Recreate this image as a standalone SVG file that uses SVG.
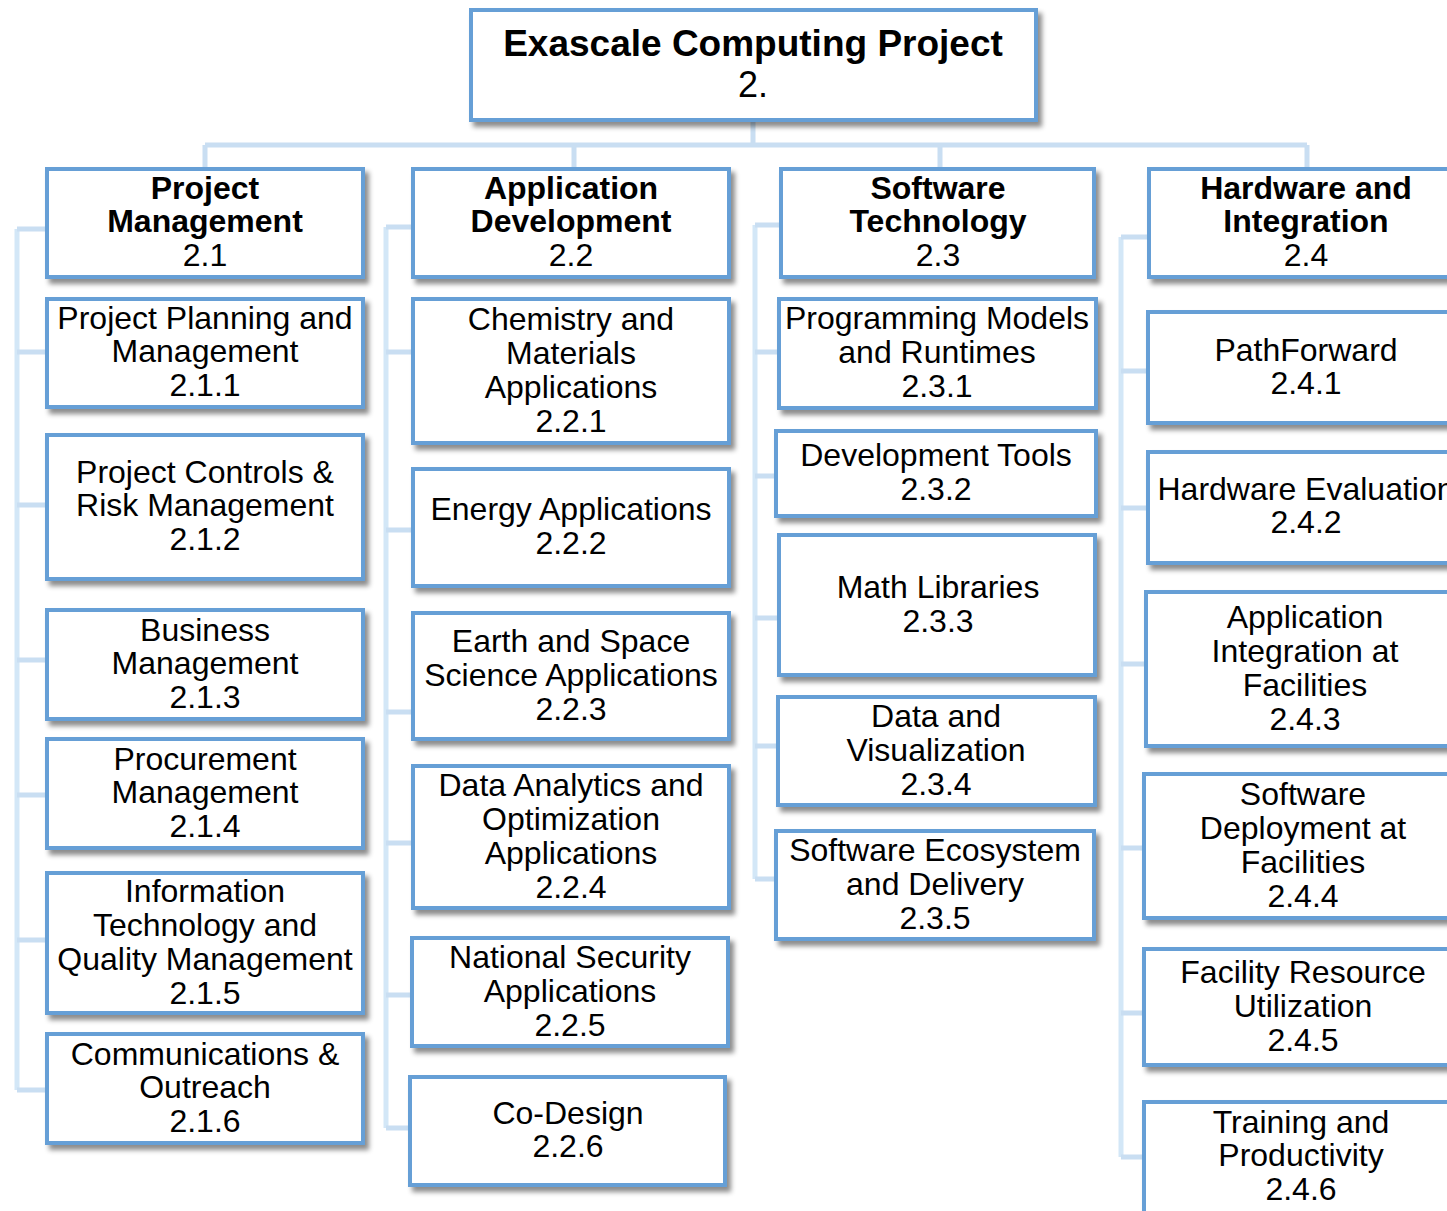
<svg xmlns="http://www.w3.org/2000/svg" width="1447" height="1211" viewBox="0 0 1447 1211">
<defs>
<filter id="sh" x="-10%" y="-10%" width="130%" height="140%">
<feDropShadow dx="4" dy="5" stdDeviation="2.5" flood-color="#000" flood-opacity="0.45"/>
</filter>
<style>
.box{fill:#fff;stroke:#669fd6;stroke-width:4;filter:url(#sh)}
.c{fill:none;stroke:#c9def2;stroke-width:5}
.cv{fill:none;stroke:#d3e7f7;stroke-width:5}
text{font-family:"Liberation Sans",Arial,sans-serif;font-size:32px;fill:#000;text-anchor:middle}
.b{font-weight:bold}
</style>
</defs>
<rect width="1447" height="1211" fill="#fff"/>
<g id="connectors">
<path class="c" d="M753 122V145M205 145H1307M205 145V167M574 145V167M940 145V167M1307 145V167"/>
<path class="cv" d="M17 229V1090"/>
<path class="c" d="M17 229H45M17 352H45M17 505H45M17 660H45M17 795H45M17 940H45M17 1090H45"/>
<path class="cv" d="M386 227V1128"/>
<path class="c" d="M386 227H411M386 352H411M386 530H411M386 712H411M386 843H411M386 995H410M386 1128H408"/>
<path class="cv" d="M755 225V879"/>
<path class="c" d="M755 225H779M755 352H777M755 476H774M755 618H777M755 746H776M755 879H774"/>
<path class="cv" d="M1121 237V1157"/>
<path class="c" d="M1121 237H1147M1121 371H1146M1121 508H1146M1121 664H1144M1121 848H1142M1121 1013H1142M1121 1157H1142"/>
</g>
<g id="n2"><rect class="box" x="471" y="10" width="565" height="110"/>
<text x="753" y="56" class="b" style="font-size:37px">Exascale Computing Project</text><text x="753" y="97" style="font-size:36px">2.</text></g>

<g id="n2.1"><rect class="box" x="47" y="169" width="316" height="108"/>
<text x="205" y="199" class="b">Project</text><text x="205" y="232" class="b">Management</text><text x="205" y="266">2.1</text></g>
<g id="n2.1.1"><rect class="box" x="47" y="299" width="316" height="108"/>
<text x="205" y="329">Project Planning and</text><text x="205" y="362">Management</text><text x="205" y="396">2.1.1</text></g>
<g id="n2.1.2"><rect class="box" x="47" y="435" width="316" height="144"/>
<text x="205" y="483">Project Controls &amp;</text><text x="205" y="516">Risk Management</text><text x="205" y="550">2.1.2</text></g>
<g id="n2.1.3"><rect class="box" x="47" y="610" width="316" height="109"/>
<text x="205" y="641">Business</text><text x="205" y="674">Management</text><text x="205" y="708">2.1.3</text></g>
<g id="n2.1.4"><rect class="box" x="47" y="739" width="316" height="109"/>
<text x="205" y="770">Procurement</text><text x="205" y="803">Management</text><text x="205" y="837">2.1.4</text></g>
<g id="n2.1.5"><rect class="box" x="47" y="873" width="316" height="140"/>
<text x="205" y="902">Information</text><text x="205" y="936">Technology and</text><text x="205" y="970">Quality Management</text><text x="205" y="1004">2.1.5</text></g>
<g id="n2.1.6"><rect class="box" x="47" y="1034" width="316" height="109"/>
<text x="205" y="1065">Communications &amp;</text><text x="205" y="1098">Outreach</text><text x="205" y="1132">2.1.6</text></g>

<g id="n2.2"><rect class="box" x="413" y="169" width="316" height="108"/>
<text x="571" y="199" class="b">Application</text><text x="571" y="232" class="b">Development</text><text x="571" y="266">2.2</text></g>
<g id="n2.2.1"><rect class="box" x="413" y="299" width="316" height="144"/>
<text x="571" y="330">Chemistry and</text><text x="571" y="364">Materials</text><text x="571" y="398">Applications</text><text x="571" y="432">2.2.1</text></g>
<g id="n2.2.2"><rect class="box" x="413" y="469" width="316" height="117"/>
<text x="571" y="520">Energy Applications</text><text x="571" y="554">2.2.2</text></g>
<g id="n2.2.3"><rect class="box" x="413" y="613" width="316" height="126"/>
<text x="571" y="652">Earth and Space</text><text x="571" y="686">Science Applications</text><text x="571" y="720">2.2.3</text></g>
<g id="n2.2.4"><rect class="box" x="413" y="766" width="316" height="142"/>
<text x="571" y="796">Data Analytics and</text><text x="571" y="830">Optimization</text><text x="571" y="864">Applications</text><text x="571" y="898">2.2.4</text></g>
<g id="n2.2.5"><rect class="box" x="412" y="938" width="316" height="108"/>
<text x="570" y="968">National Security</text><text x="570" y="1002">Applications</text><text x="570" y="1036">2.2.5</text></g>
<g id="n2.2.6"><rect class="box" x="410" y="1077" width="315" height="108"/>
<text x="568" y="1124">Co-Design</text><text x="568" y="1157">2.2.6</text></g>

<g id="n2.3"><rect class="box" x="781" y="169" width="313" height="108"/>
<text x="938" y="199" class="b">Software</text><text x="938" y="232" class="b">Technology</text><text x="938" y="266">2.3</text></g>
<g id="n2.3.1"><rect class="box" x="779" y="299" width="317" height="109"/>
<text x="937" y="329">Programming Models</text><text x="937" y="363">and Runtimes</text><text x="937" y="397">2.3.1</text></g>
<g id="n2.3.2"><rect class="box" x="776" y="431" width="320" height="85"/>
<text x="936" y="466">Development Tools</text><text x="936" y="500">2.3.2</text></g>
<g id="n2.3.3"><rect class="box" x="779" y="535" width="316" height="140"/>
<text x="938" y="598">Math Libraries</text><text x="938" y="632">2.3.3</text></g>
<g id="n2.3.4"><rect class="box" x="778" y="697" width="317" height="108"/>
<text x="936" y="727">Data and</text><text x="936" y="761">Visualization</text><text x="936" y="795">2.3.4</text></g>
<g id="n2.3.5"><rect class="box" x="776" y="831" width="318" height="108"/>
<text x="935" y="861">Software Ecosystem</text><text x="935" y="895">and Delivery</text><text x="935" y="929">2.3.5</text></g>

<g id="n2.4"><rect class="box" x="1149" y="169" width="320" height="108"/>
<text x="1306" y="199" class="b">Hardware and</text><text x="1306" y="232" class="b">Integration</text><text x="1306" y="266">2.4</text></g>
<g id="n2.4.1"><rect class="box" x="1148" y="312" width="320" height="111"/>
<text x="1306" y="361">PathForward</text><text x="1306" y="394">2.4.1</text></g>
<g id="n2.4.2"><rect class="box" x="1148" y="452" width="320" height="111"/>
<text x="1306" y="500">Hardware Evaluation</text><text x="1306" y="533">2.4.2</text></g>
<g id="n2.4.3"><rect class="box" x="1146" y="592" width="320" height="154"/>
<text x="1305" y="628">Application</text><text x="1305" y="662">Integration at</text><text x="1305" y="696">Facilities</text><text x="1305" y="730">2.4.3</text></g>
<g id="n2.4.4"><rect class="box" x="1144" y="774" width="320" height="144"/>
<text x="1303" y="805">Software</text><text x="1303" y="839">Deployment at</text><text x="1303" y="873">Facilities</text><text x="1303" y="907">2.4.4</text></g>
<g id="n2.4.5"><rect class="box" x="1144" y="949" width="320" height="116"/>
<text x="1303" y="983">Facility Resource</text><text x="1303" y="1017">Utilization</text><text x="1303" y="1051">2.4.5</text></g>
<g id="n2.4.6"><rect class="box" x="1144" y="1102" width="320" height="116"/>
<text x="1301" y="1133">Training and</text><text x="1301" y="1166">Productivity</text><text x="1301" y="1200">2.4.6</text></g>
</svg>
